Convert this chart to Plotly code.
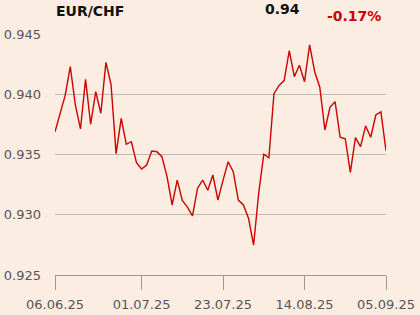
import plotly.graph_objects as go

values = [0.93689, 0.93842, 0.93991, 0.94229, 0.93911, 0.93712, 0.94124, 0.93751, 0.94021, 0.93842,
          0.94265, 0.94083, 0.93507, 0.93800, 0.93585, 0.93606, 0.93432, 0.93380, 0.93413, 0.93529,
          0.93523, 0.93482, 0.93316, 0.93081, 0.93288, 0.93118, 0.93064, 0.92990, 0.93220, 0.93288,
          0.93203, 0.93330, 0.93122, 0.93288, 0.93440, 0.93357, 0.93122, 0.93081, 0.92971, 0.92749,
          0.93178, 0.93502, 0.93473, 0.94005, 0.94073, 0.94113, 0.94361, 0.94146, 0.94240, 0.94104,
          0.94409, 0.94187, 0.94058, 0.93703, 0.93892, 0.93938, 0.93643, 0.93631, 0.93352, 0.93640,
          0.93565, 0.93737, 0.93643, 0.93828, 0.93853, 0.93532]
x_index = list(range(len(values)))
tick_positions = [0, 17, 33, 49, 65]
tick_labels = ["06.06.25", "01.07.25", "23.07.25", "14.08.25", "05.09.25"]
y_ticks = [0.925, 0.930, 0.935, 0.940, 0.945]
y_tick_labels = ["0.925", "0.930", "0.935", "0.940", "0.945"]

BG = "#fcede2"
W, H = 420, 315
L, R, T, B = 55, 34, 34, 40
pw, ph = W - L - R, H - T - B

def px(x):
    return (x - L) / pw

def py(y):
    return (H - B - y) / ph

fig = go.Figure()
fig.add_trace(go.Scatter(x=x_index, y=values, mode="lines",
                         line=dict(color="#cc0000", width=1.4), hoverinfo="skip"))

fig.update_layout(
    width=W, height=H,
    margin=dict(l=L, r=R, t=T, b=B, autoexpand=False),
    paper_bgcolor=BG, plot_bgcolor=BG,
    showlegend=False,
    font=dict(family="DejaVu Sans", size=13, color="#555555"),
    xaxis=dict(range=[0, 65], tickmode="array", tickvals=tick_positions, ticktext=tick_labels,
               showgrid=False, zeroline=False, showline=True, linecolor="#999999", linewidth=1,
               ticks="outside", ticklen=14, tickcolor="#999999", tickwidth=1, automargin=False,
               ticklabelstandoff=3,
               tickfont=dict(size=13, color="#555555")),
    yaxis=dict(range=[0.925, 0.945], tickmode="array", tickvals=y_ticks, ticktext=y_tick_labels,
               showgrid=True, gridcolor="#bbbbbb", gridwidth=1, zeroline=False, showline=False,
               ticks="", ticklabelstandoff=13, automargin=False,
               tickfont=dict(size=13, color="#555555")),
)

fig.add_annotation(text="<b>EUR/CHF</b>", xref="paper", yref="paper", x=px(54), y=py(10.7),
                   xanchor="left", yanchor="middle", showarrow=False,
                   font=dict(family="DejaVu Sans", size=14, color="#111111"))
fig.add_annotation(text="<b>0.94</b>", xref="paper", yref="paper", x=px(263), y=py(8.7),
                   xanchor="left", yanchor="middle", showarrow=False,
                   font=dict(family="DejaVu Sans", size=14, color="#111111"))
fig.add_annotation(text="<b>-0.17%</b>", xref="paper", yref="paper", x=px(325), y=py(16),
                   xanchor="left", yanchor="middle", showarrow=False,
                   font=dict(family="DejaVu Sans", size=14, color="#cc0000"))

fig.write_html("out.html")
